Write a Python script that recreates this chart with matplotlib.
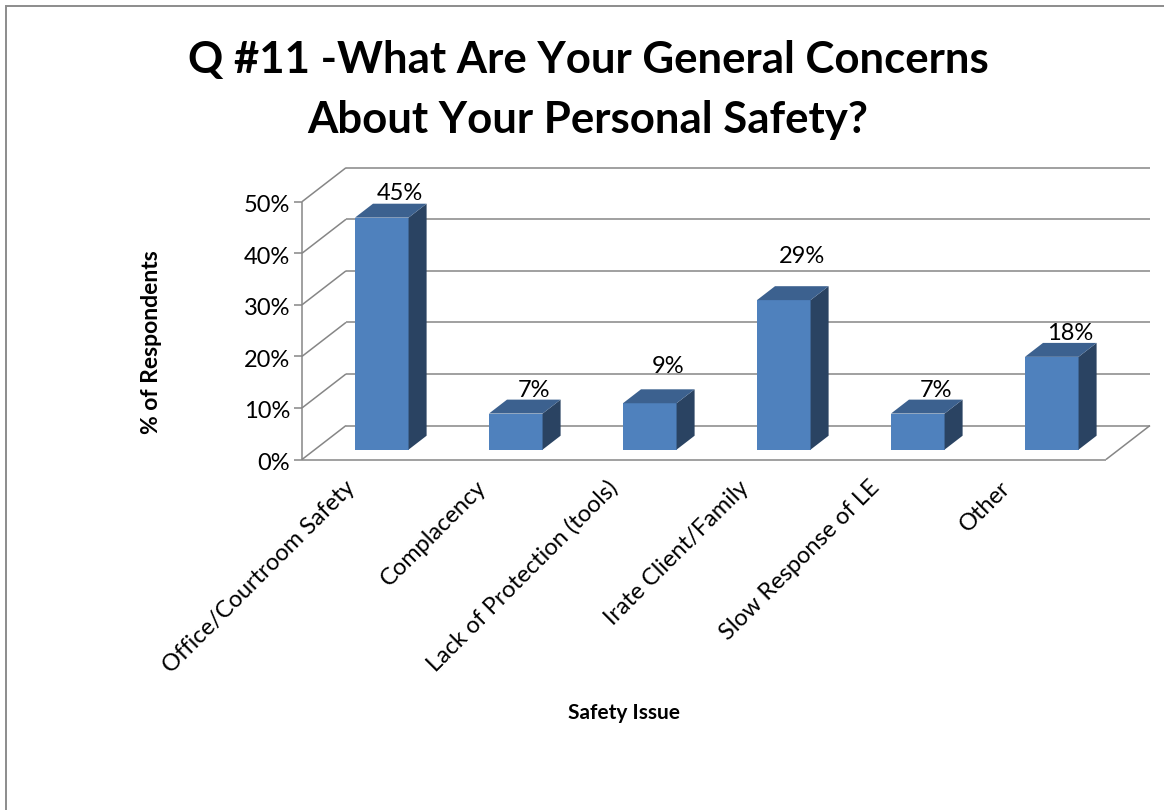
"""Q #11 personal safety concerns: Excel-style 3D column chart."""
import matplotlib
matplotlib.use('Agg')
import matplotlib.pyplot as plt
from matplotlib.lines import Line2D
from matplotlib.patches import Polygon

categories = ['Office/Courtroom Safety', 'Complacency', 'Lack of Protection (tools)',
              'Irate Client/Family', 'Slow Response of LE', 'Other']
percent = [45, 7, 9, 29, 7, 18]
y_ticks = [0, 10, 20, 30, 40, 50]
title_text = 'Q #11 -What Are Your General Concerns\nAbout Your Personal Safety?'
y_title = '% of Respondents'
x_title = 'Safety Issue'

W, H = 1164, 810
AXIS_COLOR = '#868686'
FRONT, SIDE, TOP = '#4F81BD', '#2A4362', '#3C618F'

# depth of the fake 3D box, in data units (1 category = 134 px, 1% = 5.16 px)
DEPTH_X = 44 / 134
DEPTH_Y = 34 / 5.16
# the bars stand a bit behind the front edge of the floor
BAR_NEAR = 0.29
BAR_FAR = 0.70
BAR_W = 0.40

plt.rcParams['font.family'] = ['Lato', 'DejaVu Sans']

fig = plt.figure(figsize=(W / 100, H / 100), dpi=100)
left, right, top, bottom = 302, 1106, 201.7, 459.5
ax = fig.add_axes([left / W, 1 - bottom / H, (right - left) / W, (bottom - top) / H])
ax.set_xlim(-0.5, len(categories) - 0.5)
ax.set_ylim(0, y_ticks[-1])
ax.axis('off')

# chart frame: only the top and left edges are inside the picture
frame_x, frame_y = 6 / W, 1 - 6 / H
fig.add_artist(Line2D([frame_x, frame_x, 1], [0, frame_y, frame_y], transform=fig.transFigure,
                      color='#8C8C8C', linewidth=1.4, solid_joinstyle='miter'))

x0, x1 = ax.get_xlim()
line_kw = dict(color=AXIS_COLOR, linewidth=1.1, clip_on=False, solid_capstyle='butt')

# back wall gridlines and the left wall diagonals
for t in y_ticks:
    ax.plot([x0 + DEPTH_X, x1 + DEPTH_X], [t + DEPTH_Y, t + DEPTH_Y], zorder=1, **line_kw)
    ax.plot([x0, x0 + DEPTH_X], [t, t + DEPTH_Y], zorder=1, **line_kw)
    ax.plot([x0 - 0.06, x0], [t, t], zorder=1, **line_kw)
    ax.annotate(f'{t}%', (x0, t), xytext=(-12, -4), textcoords='offset pixels',
                ha='right', va='center', fontsize=17, color='black', annotation_clip=False)

# front axis lines and the right edge of the floor
ax.plot([x0, x0], [0, y_ticks[-1]], zorder=1, **line_kw)
ax.plot([x0, x1], [0, 0], zorder=1, **line_kw)
ax.plot([x1, x1 + DEPTH_X], [0, DEPTH_Y], zorder=1, **line_kw)

# label lift above the bar's back edge differs per bar in the reference, in px
label_lift = [0, -1, 12, 19, -1, -1]
# category label ends creep left of the bars (131 px step against 134)
label_shift = [-17, -20, -23, -26, -29, -32]

for i, v in enumerate(percent):
    xl = i - BAR_W / 2 + BAR_NEAR * DEPTH_X
    xr = i + BAR_W / 2 + BAR_NEAR * DEPTH_X
    y_near = BAR_NEAR * DEPTH_Y
    dx = (BAR_FAR - BAR_NEAR) * DEPTH_X
    dy = (BAR_FAR - BAR_NEAR) * DEPTH_Y
    ax.bar(xl, v, width=xr - xl, bottom=y_near, align='edge', color=FRONT, zorder=3, clip_on=False)
    ax.add_patch(Polygon([(xr, y_near), (xr + dx, y_near + dy), (xr + dx, y_near + v + dy), (xr, y_near + v)],
                         facecolor=SIDE, edgecolor='none', zorder=3, clip_on=False))
    ax.add_patch(Polygon([(xl, y_near + v), (xr, y_near + v), (xr + dx, y_near + v + dy), (xl + dx, y_near + v + dy)],
                         facecolor=TOP, edgecolor='none', zorder=3, clip_on=False))
    ax.annotate(f'{v}%', ((xl + xr) / 2, y_near + v + dy), xytext=(18, label_lift[i]),
                textcoords='offset pixels', ha='center', va='bottom', fontsize=17,
                color='black', zorder=4, annotation_clip=False)
    # category label, rotated, its end under the bar
    ax.annotate(categories[i], (i, 0), xytext=(label_shift[i], -25), textcoords='offset pixels',
                rotation=45, rotation_mode='anchor', ha='right', va='center',
                fontsize=17, color='black', annotation_clip=False)

fig.text(588 / W, 1 - 90 / H, title_text, ha='center', va='center', fontsize=31.5,
         fontweight='bold', linespacing=1.6, color='black')
fig.text(151 / W, 1 - 342 / H, y_title, rotation=90, ha='center', va='center',
         fontsize=16.5, fontweight='bold', color='black')
fig.text(624 / W, 1 - 713 / H, x_title, ha='center', va='center',
         fontsize=15, fontweight='bold', color='black')

fig.savefig('out.png', dpi=100)
